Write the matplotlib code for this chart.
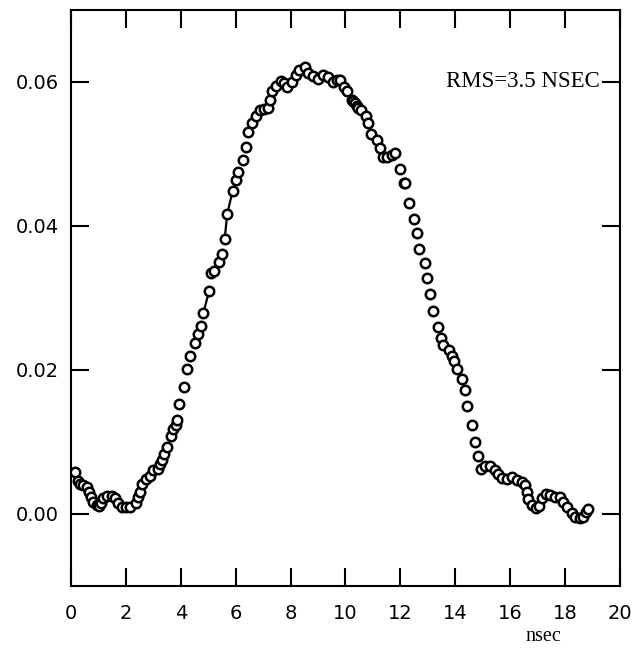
import numpy as np
import matplotlib
matplotlib.use('Agg')
import matplotlib.pyplot as plt

# time axis (nsec) and amplitude
t = np.array([
    0.15, 0.27, 0.34, 0.45, 0.60, 0.66, 0.73, 0.81, 0.93, 1.03,
    1.10, 1.18, 1.32, 1.48, 1.60, 1.70, 1.85, 2.00, 2.15, 2.36,
    2.43, 2.51, 2.60, 2.75, 2.88, 2.97, 3.16, 3.24, 3.30, 3.40,
    3.48, 3.64, 3.73, 3.81, 3.87, 3.95, 4.10, 4.24, 4.34, 4.50,
    4.64, 4.72, 4.82, 5.03, 5.11, 5.21, 5.40, 5.50, 5.60, 5.69,
    5.89, 6.01, 6.10, 6.28, 6.38, 6.46, 6.58, 6.74, 6.88, 7.02,
    7.16, 7.25, 7.34, 7.47, 7.65, 7.76, 7.86, 8.04, 8.18, 8.32,
    8.52, 8.64, 8.83, 9.01, 9.17, 9.37, 9.56, 9.68, 9.80, 9.94,
    10.04, 10.22, 10.28, 10.34, 10.41, 10.47, 10.56, 10.73, 10.83, 10.92,
    11.13, 11.26, 11.35, 11.50, 11.68, 11.80, 12.00, 12.13, 12.16, 12.31,
    12.48, 12.60, 12.69, 12.88, 12.98, 13.09, 13.17, 13.37, 13.47, 13.56,
    13.78, 13.87, 13.96, 14.05, 14.26, 14.35, 14.41, 14.60, 14.72, 14.84,
    14.92, 15.08, 15.26, 15.45, 15.57, 15.69, 15.87, 16.05, 16.24, 16.42,
    16.54, 16.60, 16.66, 16.78, 16.94, 17.06, 17.15, 17.30, 17.45, 17.63,
    17.81, 17.93, 18.06, 18.24, 18.36, 18.54, 18.66, 18.76, 18.82,
])
amp = np.array([
    0.0058, 0.0046, 0.0042, 0.0040, 0.0038, 0.0030, 0.0024, 0.0017, 0.0013, 0.0011,
    0.0015, 0.0022, 0.0025, 0.0025, 0.0022, 0.0015, 0.0010, 0.0009, 0.0010, 0.0015,
    0.0023, 0.0031, 0.0042, 0.0048, 0.0053, 0.0061, 0.0063, 0.0069, 0.0075, 0.0083,
    0.0093, 0.0108, 0.0118, 0.0124, 0.0131, 0.0153, 0.0176, 0.0201, 0.0220, 0.0238,
    0.0250, 0.0261, 0.0279, 0.0309, 0.0334, 0.0338, 0.0350, 0.0361, 0.0382, 0.0416,
    0.0449, 0.0464, 0.0475, 0.0491, 0.0509, 0.0531, 0.0543, 0.0553, 0.0561, 0.0562,
    0.0564, 0.0575, 0.0587, 0.0594, 0.0601, 0.0599, 0.0593, 0.0600, 0.0610, 0.0616,
    0.0621, 0.0612, 0.0608, 0.0604, 0.0610, 0.0607, 0.0600, 0.0602, 0.0602, 0.0593,
    0.0587, 0.0575, 0.0573, 0.0570, 0.0567, 0.0564, 0.0561, 0.0553, 0.0543, 0.0527,
    0.0519, 0.0508, 0.0495, 0.0495, 0.0499, 0.0501, 0.0479, 0.0460, 0.0460, 0.0432,
    0.0409, 0.0390, 0.0368, 0.0349, 0.0327, 0.0306, 0.0282, 0.0260, 0.0245, 0.0234,
    0.0228, 0.0219, 0.0213, 0.0201, 0.0187, 0.0172, 0.0150, 0.0124, 0.0100, 0.0080,
    0.0063, 0.0066, 0.0066, 0.0061, 0.0056, 0.0050, 0.0048, 0.0051, 0.0047, 0.0045,
    0.0040, 0.0031, 0.0021, 0.0013, 0.0008, 0.0011, 0.0022, 0.0028, 0.0026, 0.0023,
    0.0023, 0.0017, 0.0009, 0.0002, -0.0004, -0.0006, -0.0004, 0.0003, 0.0007,
])
# stretches where the original shows a connecting line
joined = [(4.82, 5.03), (5.60, 5.89)]
label = 'RMS=3.5 NSEC'

fig = plt.figure(figsize=(6.32, 6.54), dpi=100)
ax = fig.add_axes([0.1123, 0.104, 0.8687, 0.881])

for lo, hi in joined:
    m = (t >= lo) & (t <= hi)
    ax.plot(t[m], amp[m], color='black', lw=1.6, zorder=2)
ax.plot(t, amp, 'o', mfc='white', mec='black', ms=6.8, mew=1.8, zorder=3)

ax.set_xlim(0, 20)
ax.set_ylim(-0.01, 0.07)
ax.set_xticks(np.arange(0, 21, 2))
ax.set_yticks([0.0, 0.02, 0.04, 0.06])
ax.set_yticklabels(['0.00', '0.02', '0.04', '0.06'])
ax.tick_params(direction='in', length=13, width=1.5, top=True, right=True,
               labelsize=14, colors='black')
ax.tick_params(axis='x', pad=13)
ax.tick_params(axis='y', pad=9)
for s in ax.spines.values():
    s.set_linewidth(1.5)

ax.text(19.25, 0.0600, label, ha='right', va='center',
        fontsize=16.5, family='Liberation Serif')
ax.set_xlabel('nsec', fontsize=14.5, family='Liberation Serif')
ax.xaxis.set_label_coords(0.86, -0.072)

fig.savefig('out.png', dpi=100)
